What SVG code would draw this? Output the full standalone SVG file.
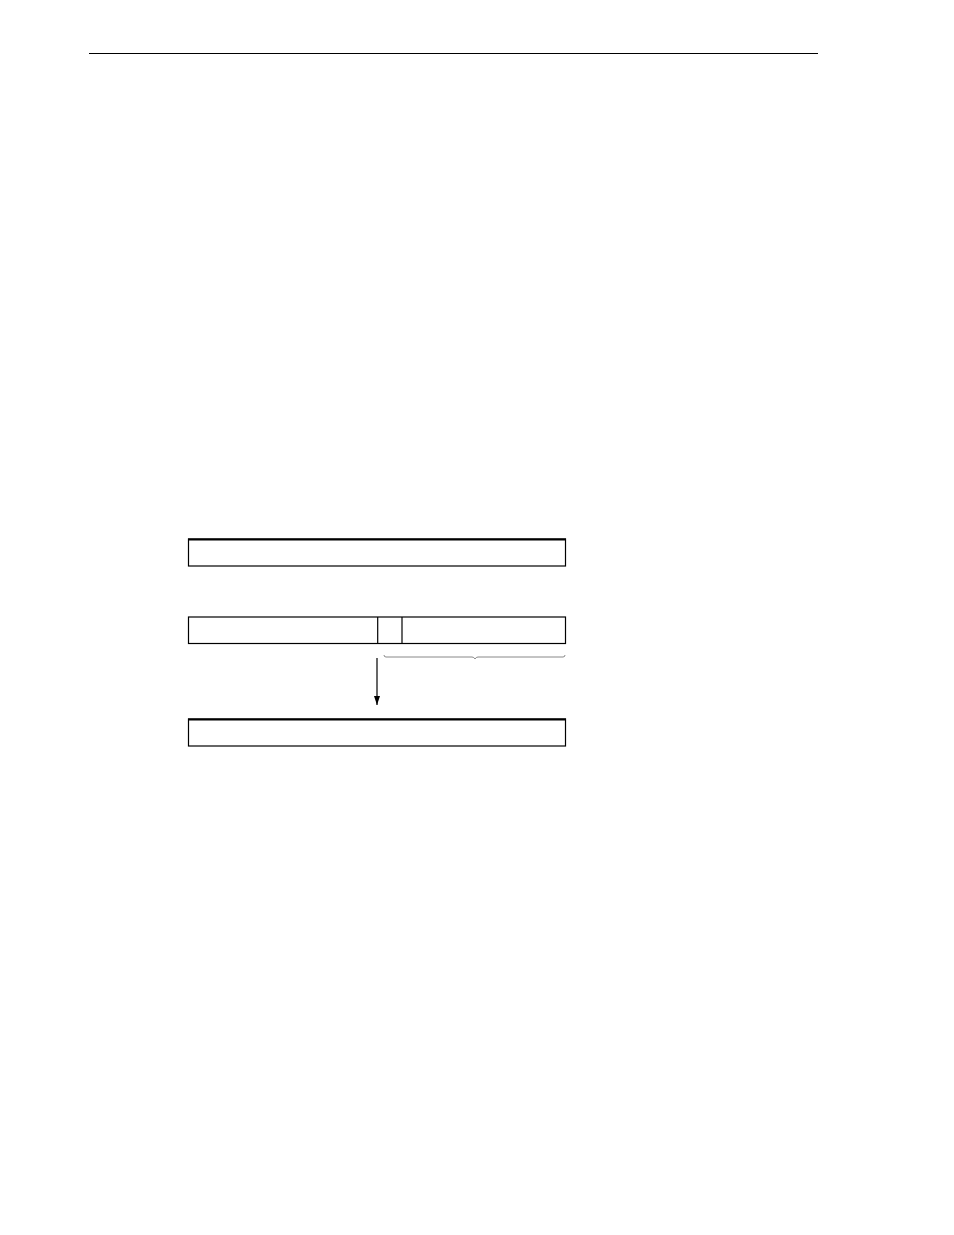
<svg xmlns="http://www.w3.org/2000/svg" width="954" height="1235" viewBox="0 0 954 1235">
<style>
.box{fill:none;stroke:#000;stroke-width:1.2}
.top{stroke:#000;stroke-width:2.2}
.conn{stroke:#000;stroke-width:1.2;fill:none}
.brace{stroke:#888;stroke-width:1;fill:none}
</style>
<defs>
<marker id="ah" markerWidth="10" markerHeight="8" refX="9" refY="4" orient="auto" markerUnits="userSpaceOnUse" viewBox="0 0 10 8">
<path d="M0,1 L9,4 L0,7 Z" fill="#000"/>
</marker>
</defs>
<rect width="954" height="1235" fill="#fff"/>
<line x1="89" y1="53.5" x2="818" y2="53.5" stroke="#000" stroke-width="1.2"/>
<g id="box1">
<rect class="box" x="188.5" y="539" width="377" height="27"/>
<line class="top" x1="188" y1="539.5" x2="566" y2="539.5"/>
</g>
<g id="box2">
<rect class="box" x="188.5" y="617" width="377" height="26.5"/>
<line class="box" x1="377.7" y1="617" x2="377.7" y2="643.5"/>
<line class="box" x1="402" y1="617" x2="402" y2="643.5"/>
</g>
<g id="box3">
<rect class="box" x="188.5" y="719" width="377" height="27"/>
<line class="top" x1="188" y1="719.5" x2="566" y2="719.5"/>
</g>
<g id="connectors">
<line class="conn" x1="377" y1="658" x2="377" y2="705" marker-end="url(#ah)"/>
<path class="brace" d="M384,655 Q384,657 386,657 L472,657 Q474,657 475,659 Q476,657 478,657 L563,657 Q565,657 565,655"/>
</g>
</svg>
